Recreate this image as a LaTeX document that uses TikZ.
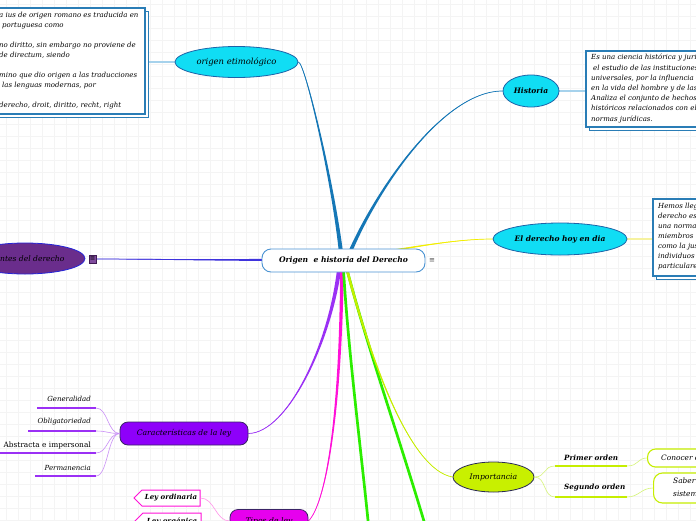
\documentclass[tikz,border=0pt]{standalone}
\usepackage{fontspec}
\setmainfont{DejaVu Serif}
\newfontfamily\dvs{DejaVu Sans}
\usetikzlibrary{shapes.geometric,shapes.symbols,calc}
\definecolor{gridc}{HTML}{F4F4F4}
\definecolor{cyanf}{HTML}{10DDF4}
\definecolor{ellblue}{HTML}{1C63A8}
\definecolor{cblue}{HTML}{4A93D2}
\definecolor{linkblue}{HTML}{1577B6}
\definecolor{lightblue}{HTML}{A6D2EC}
\definecolor{boxblue}{HTML}{2A7DB6}
\definecolor{yel}{HTML}{F2EE00}
\definecolor{lightyel}{HTML}{F6F2A0}
\definecolor{fpurple}{HTML}{6A2D8C}
\definecolor{fborder}{HTML}{2424D8}
\definecolor{flink}{HTML}{3F33DD}
\definecolor{violetf}{HTML}{8E00FA}
\definecolor{violetl}{HTML}{9B30F5}
\definecolor{violetc}{HTML}{C98EF6}
\definecolor{darkb}{HTML}{3A2466}
\definecolor{magf}{HTML}{E600EE}
\definecolor{magl}{HTML}{FF10D8}
\definecolor{magc}{HTML}{FF96EA}
\definecolor{greenl}{HTML}{2CEE00}
\definecolor{limel}{HTML}{C6EE00}
\definecolor{limef}{HTML}{C8F000}
\definecolor{limec}{HTML}{D6F47A}
\definecolor{navy}{HTML}{2A2A55}
\pgfdeclarelayer{gridl}
\pgfdeclarelayer{links}
\pgfsetlayers{gridl,links,main}
\newcommand\tapercurve[6]{%
  \fill[#1] ($(#2)+(#6)$) .. controls ($(#3)+0.55*(#6)$) and ($(#4)+0.2*(#6)$) .. (#5)
     .. controls ($(#4)-0.2*(#6)$) and ($(#3)-0.55*(#6)$) .. ($(#2)-(#6)$) -- cycle;
  \draw[#1,line width=0.7pt] (#2) .. controls (#3) and (#4) .. (#5);}
\begin{document}
\begin{tikzpicture}[x=1pt,y=-1pt,
  ell/.style={ellipse, draw=ellblue, line width=0.8pt, fill=cyanf, inner sep=0pt,
     font=\fontsize{8}{9}\selectfont\itshape},
  rbox/.style={rectangle, rounded corners=8pt, draw=darkb, line width=0.8pt, inner sep=0pt,
     font=\fontsize{7.7}{9}\selectfont\itshape},
  tbox/.style={draw=boxblue, line width=1.1pt, fill=white},
  tshadow/.style={draw=boxblue, line width=0.8pt, fill=white},
  btext/.style={inner sep=0pt, align=left, font=\fontsize{7}{10}\selectfont\itshape},
  lbl/.style={inner sep=0pt, font=\fontsize{7}{8}\selectfont\itshape},
  sig/.style={signal, signal to=west, draw=magl, line width=1pt, fill=white,
     minimum width=66, minimum height=16, inner sep=0pt,
     font=\fontsize{7}{8}\selectfont\bfseries\itshape},
  thin/.style={line width=0.6pt}
]
\clip (0,0) rectangle (696,520);
\begin{pgfonlayer}{gridl}
  \fill[white] (0,0) rectangle (696,520);
  \foreach \i in {6,18,...,696} \draw[gridc, line width=0.6pt] (\i,0) -- (\i,520);
  \foreach \j in {4,16,...,520} \draw[gridc, line width=0.6pt] (0,\j) -- (696,\j);
\end{pgfonlayer}

% central node
\node[rectangle, rounded corners=9pt, draw=cblue, line width=0.9pt, fill=white,
  minimum width=163, minimum height=23, inner sep=0pt,
  font=\fontsize{7.6}{9}\selectfont\bfseries\itshape] (C) at (343.5,260.5) {Origen\ \ e historia del Derecho};
\node[inner sep=0pt, font=\dvs\fontsize{7}{8}\selectfont, text=black!70] (Cm) at (432,261) {≡};

% main ideas
\node[ell, minimum width=123, minimum height=31, font=\fontsize{8.4}{9}\selectfont\itshape] (O) at (236.5,62) {origen etimológico};
\node[ell, minimum width=56, minimum height=32, font=\fontsize{7.5}{9}\selectfont\bfseries\itshape] (H) at (531,91) {Historia};
\node[ell, minimum width=134, minimum height=32, font=\fontsize{7.5}{9}\selectfont\bfseries\itshape] (D) at (560,239) {El derecho hoy en dia};
\node[ell, draw=fborder, fill=fpurple, minimum width=120, minimum height=31, font=\fontsize{7.6}{9}\selectfont\itshape] (F) at (25,258.5) {Fuentes del derecho};
\node[draw=fpurple!60!black, fill=fpurple!85, minimum width=7, minimum height=8, inner sep=0pt,
  font=\dvs\fontsize{6.5}{6}\selectfont, text=black] (Fm) at (92.5,259) {≡};
\node[rbox, fill=violetf, minimum width=128, minimum height=23] (K) at (184,433.5) {Características de la ley};
\node[rbox, fill=magf, minimum width=78, minimum height=23] (T) at (269,521) {Tipos de ley};
\node[ell, draw=navy, fill=limef, minimum width=81, minimum height=30, font=\fontsize{7.7}{9}\selectfont\itshape] (I) at (493.5,477) {Importancia};

% text boxes
\draw[tshadow] (-10,11) rectangle (148,117);
\draw[tbox] (-13,8) rectangle (145,114);
\coordinate (Ob) at (145,62);
\node[btext, anchor=north west] (Ot) at (-1,12) {a ius de origen romano es traducida en\\
  \hspace*{3pt}portuguesa como\\[10pt]
  no diritto, sin embargo no proviene de\\
  de directum, siendo\\[10pt]
  mino que dio origen a las traducciones\\
  \hspace*{3pt}las lenguas modernas, por\\[10pt]
  derecho, droit, diritto, recht, right};

\draw[tshadow] (589,54) rectangle (713,130);
\draw[tbox] (586,51) rectangle (710,127);
\coordinate (Hb) at (586,91);
\node[btext, anchor=north west, font=\fontsize{7}{10.2}\selectfont\itshape] (Ht) at (591,54) {Es una ciencia histórica y jurídica\\
  \hspace*{2pt}el estudio de las instituciones\\
  universales, por la influencia\\
  en la vida del hombre y de las\\
  Analiza el conjunto de hechos\\
  históricos relacionados con el\\
  normas jurídicas.};

\draw[tshadow] (656,202) rectangle (713,279);
\draw[tbox] (653,199) rectangle (710,276);
\coordinate (Db) at (653,239);
\node[btext, anchor=north west] (Dt) at (658,203) {Hemos llegado\\
  derecho es\\ una norma\\ miembros\\ como la justicia\\ individuos\\ particulares};

% caracteristicas children
\node[lbl, anchor=east] (k1) at (91,399) {Generalidad};
\node[lbl, anchor=east] (k2) at (91,422) {Obligatoriedad};
\node[lbl, anchor=east, font=\fontsize{7.4}{8}\selectfont\upshape] (k3) at (91,445) {Abstracta e impersonal};
\node[lbl, anchor=east] (k4) at (91,468) {Permanencia};
\coordinate (k1a) at (37,408); \coordinate (k1b) at (96,408);
\coordinate (k2a) at (28,431); \coordinate (k2b) at (96,431);
\coordinate (k3a) at (0,453);  \coordinate (k3b) at (96,453);
\coordinate (k4a) at (35,476); \coordinate (k4b) at (96,476);
\foreach \a/\b in {k1a/k1b,k2a/k2b,k3a/k3b,k4a/k4b}
  \draw[violetl, line width=1.3pt] (\a) -- (\b);
\foreach \b in {k1b,k2b,k3b,k4b}
  \draw[violetc, thin] (K.west) .. controls +(-12,0) and ($(\b)+(12,0)$) .. (\b);

% tipos children
\node[sig] (t1) at (171,498) {Ley ordinaria};
\node[sig] (t2) at (172,521) {Ley orgánica};
\draw[magc, thin] (t1.east) .. controls +(14,0) and ($(T.west)+(-14,0)$) .. (T.west);
\draw[magc, thin] (t2.east) .. controls +(14,0) and ($(T.west)+(-14,0)$) .. (T.west);

% importancia children
\node[lbl, anchor=west, font=\fontsize{7.2}{8}\selectfont\bfseries\itshape] (i1) at (564,458) {Primer orden};
\node[lbl, anchor=west, font=\fontsize{7.2}{8}\selectfont\bfseries\itshape] (i2) at (564,488) {Segundo orden};
\coordinate (i1a) at (555,466); \coordinate (i1b) at (627,466);
\coordinate (i2a) at (555,497); \coordinate (i2b) at (627,497);
\draw[limel, line width=1.3pt] (i1a) -- (i1b);
\draw[limel, line width=1.3pt] (i2a) -- (i2b);
\draw[limec, thin] (I.east) .. controls +(12,0) and ($(i1a)+(-12,0)$) .. (i1a);
\draw[limec, thin] (I.east) .. controls +(12,0) and ($(i2a)+(-12,0)$) .. (i2a);
\node[rectangle, rounded corners=8pt, draw=limel, line width=1.1pt, fill=white,
  minimum width=80, minimum height=18, inner sep=0pt, anchor=west] (j1) at (647,458) {};
\node[lbl, anchor=west, font=\fontsize{7.4}{8}\selectfont\itshape] (j1t) at (661,458) {Conocer el};
\node[rectangle, rounded corners=9pt, draw=limel, line width=1.1pt, fill=white,
  minimum width=80, minimum height=30, inner sep=0pt, anchor=west] (j2) at (653,488) {};
\node[lbl, anchor=north west, align=left, font=\fontsize{7.4}{12.5}\selectfont\itshape] (j2t) at (673,478) {Saber\\sistema};
\draw[limec, thin] (i1b) .. controls +(12,0) and ($(j1.west)+(-10,0)$) .. (j1.west);
\draw[limec, thin] (i2b) .. controls +(12,0) and ($(j2.west)+(-12,0)$) .. (j2.west);

% connectors
\coordinate (g1) at (342,262);
\coordinate (g2) at (346,262);
\coordinate (g3) at (345,258);
\coordinate (g4) at (340,262);
\coordinate (g5) at (343,262);
\coordinate (g6) at (345,262);
\coordinate (g7) at (300,260);
\coordinate (gE1) at (369,530);
\coordinate (gE2) at (426,528);
\begin{pgfonlayer}{links}
  \draw[lightblue, line width=1.2pt] (O.west) -- (Ob);
  \draw[lightblue, line width=1.2pt] (H.east) -- (Hb);
  \draw[lightyel, line width=1.2pt] (D.east) -- (Db);
  \tapercurve{linkblue}{g1}{335,190}{305,62}{O.east}{2.2,0}
  \tapercurve{linkblue}{g2}{370,200}{440,91}{H.west}{1.9,0.6}
  \tapercurve{yel}{g3}{400,250}{450,239}{D.west}{0,1.4}
  \tapercurve{flink}{g7}{200,260}{130,259}{Fm.east}{0,1.2}
  \tapercurve{violetl}{g4}{332,340}{288,433}{K.east}{2.2,0}
  \tapercurve{magl}{g1}{341,420}{325,505}{T.east}{1.9,0}
  \draw[greenl, line width=2.7pt] (g5) .. controls (348,350) and (360,440) .. (gE1);
  \draw[greenl, line width=2.7pt] (g6) .. controls (365,340) and (400,440) .. (gE2);
  \tapercurve{limel}{g6}{370,360}{410,470}{I.west}{1.4,0}
  \draw[flink, line width=1pt] (g7) -- (C.west);
\end{pgfonlayer}
\end{tikzpicture}
\end{document}
